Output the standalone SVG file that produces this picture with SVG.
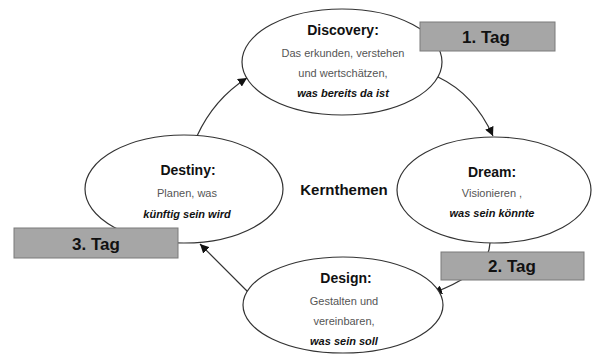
<svg xmlns="http://www.w3.org/2000/svg" width="595" height="357" viewBox="0 0 595 357">
<defs>
<style>
.node{fill:#fff;stroke:#333;stroke-width:1.2}
.tag{fill:#a6a6a6;stroke:#7a7a7a;stroke-width:1}
.t{font-family:"Liberation Sans",Arial,sans-serif;text-anchor:middle}
.title{font-size:14px;font-weight:bold;fill:#111}
.body{font-size:11px;fill:#555}
.em{font-size:11px;font-weight:bold;font-style:italic;fill:#111}
.tagt{font-size:17px;font-weight:bold;fill:#111}
.conn{fill:none;stroke:#333;stroke-width:1.2;marker-end:url(#ah)}
</style>
<marker id="ah" viewBox="0 0 10 10" refX="10" refY="5" markerWidth="9" markerHeight="9" markerUnits="userSpaceOnUse" orient="auto">
<path d="M0,0 L10,5 L0,10 z" fill="#111"/>
</marker>
</defs>
<rect width="595" height="357" fill="#fff"/>
<g id="connectors">
<path class="conn" d="M197,136 Q214,99 247,78"/>
<path class="conn" d="M438,77 Q474,94 493,136"/>
<path class="conn" d="M490,243 Q489,272 433,293"/>
<path class="conn" d="M248,292 Q216,260 200,244"/>
</g>
<g id="discovery">
<ellipse class="node" cx="342" cy="62" rx="100" ry="53"/>
<text class="t title" x="343" y="35">Discovery:</text>
<text class="t body" x="343" y="57">Das erkunden, verstehen</text>
<text class="t body" x="343" y="77">und wertschätzen,</text>
<text class="t em" x="343" y="97">was bereits da ist</text>
</g>
<g id="dream">
<ellipse class="node" cx="494" cy="190" rx="97" ry="53"/>
<text class="t title" x="492" y="177">Dream:</text>
<text class="t body" x="492" y="197">Visionieren ,</text>
<text class="t em" x="492" y="217">was sein könnte</text>
</g>
<g id="design">
<ellipse class="node" cx="343" cy="305" rx="100" ry="48"/>
<text class="t title" x="346" y="283">Design:</text>
<text class="t body" x="344" y="305">Gestalten und</text>
<text class="t body" x="344" y="325">vereinbaren,</text>
<text class="t em" x="344" y="345">was sein soll</text>
</g>
<g id="destiny">
<ellipse class="node" cx="184" cy="189" rx="99" ry="54"/>
<text class="t title" x="188" y="175">Destiny:</text>
<text class="t body" x="187" y="197">Planen, was</text>
<text class="t em" x="187" y="218">künftig sein wird</text>
</g>
<g id="kernthemen">
<text class="t title" x="344" y="195" style="font-size:15px">Kernthemen</text>
</g>
<g id="tag1">
<rect class="tag" x="420" y="22" width="135" height="29"/>
<text class="t tagt" x="486" y="43">1. Tag</text>
</g>
<g id="tag2">
<rect class="tag" x="441" y="252" width="143" height="28"/>
<text class="t tagt" x="512" y="272">2. Tag</text>
</g>
<g id="tag3">
<rect class="tag" x="14" y="228" width="164" height="30"/>
<text class="t tagt" x="96" y="250">3. Tag</text>
</g>
</svg>
